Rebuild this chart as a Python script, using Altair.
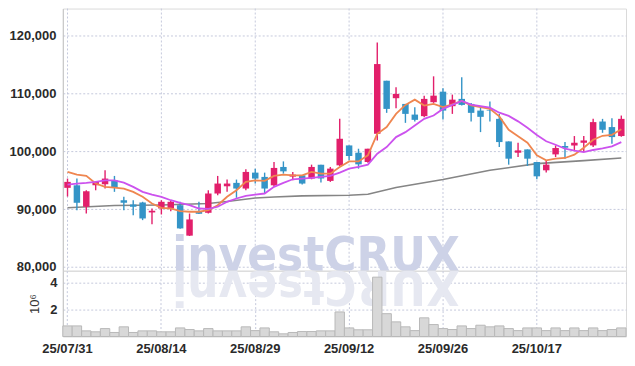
import altair as alt
import pandas as pd

dates = ["25/07/31", "25/08/01", "25/08/04", "25/08/05", "25/08/06", "25/08/07", "25/08/08",
         "25/08/11", "25/08/12", "25/08/13", "25/08/14", "25/08/18", "25/08/19", "25/08/20",
         "25/08/21", "25/08/22", "25/08/25", "25/08/26", "25/08/27", "25/08/28", "25/08/29",
         "25/09/01", "25/09/02", "25/09/03", "25/09/04", "25/09/05", "25/09/08", "25/09/09",
         "25/09/10", "25/09/11", "25/09/12", "25/09/15", "25/09/16", "25/09/17", "25/09/18",
         "25/09/19", "25/09/22", "25/09/23", "25/09/24", "25/09/25", "25/09/26", "25/09/29",
         "25/09/30", "25/10/01", "25/10/02", "25/10/10", "25/10/13", "25/10/14", "25/10/15",
         "25/10/16", "25/10/17", "25/10/20", "25/10/21", "25/10/22", "25/10/23", "25/10/24",
         "25/10/27", "25/10/28", "25/10/29", "25/10/30"]

opens = [93670, 94110, 90400, 94110, 94290, 94970, 91530, 90790, 91140, 89420,
         90100, 90100, 90670, 85410, 89540, 89360, 92690, 93940, 94530, 93550,
         96300, 95560, 94110, 97280, 95610, 95840, 95270, 97680, 94870, 97560,
         101000, 99740, 98140, 103010, 112180, 109160, 108170, 106330, 106060, 108470,
         110290, 107780, 109040, 108170, 107020, 107140, 105590, 101690, 99740, 100310,
         98140, 96700, 99450, 100900, 101000, 101460, 101000, 105130, 104170, 102620]
highs = [95270, 95270, 93250, 94800, 96700, 95730, 92120, 91530, 91260, 90100,
         91530, 91530, 91260, 89240, 91260, 93250, 95730, 95100, 95100, 96870,
         96990, 96300, 98140, 98240, 96420, 95840, 97680, 97680, 97280, 105590,
         101000, 100430, 100430, 118790, 112180, 111050, 108170, 107610, 109600, 112940,
         110880, 109780, 112770, 108350, 107490, 108570, 106450, 101690, 101460, 100310,
         98140, 98420, 101000, 101580, 102620, 102620, 105590, 105590, 105710, 106160]
lows = [92170, 89810, 89240, 93250, 93550, 92980, 89810, 88950, 88090, 87400,
        89070, 89640, 86600, 85350, 89150, 89240, 92390, 92980, 91950, 93250,
        94410, 92690, 93840, 96130, 94970, 94230, 95150, 94580, 94700, 97450,
        98420, 96990, 98020, 101860, 106630, 107430, 104900, 105130, 105890, 108350,
        105470, 106450, 107900, 105130, 103300, 105130, 100720, 97680, 99000, 97450,
        95150, 96300, 99000, 98710, 100140, 99860, 100720, 103180, 101290, 102500]
closes = [94700, 91090, 93080, 94700, 95270, 93670, 91090, 90400, 88380, 89710,
          91260, 91260, 86660, 88210, 89190, 92690, 94410, 94410, 93550, 96420,
          95270, 93550, 97110, 96520, 95960, 94410, 97280, 95270, 96990, 102150,
          99170, 97730, 100430, 115060, 107310, 109900, 106450, 105420, 109040, 109600,
          107020, 108910, 108000, 106630, 105940, 107020, 101580, 98710, 100140, 98710,
          95660, 97680, 100550, 100600, 101460, 101860, 105030, 103700, 102440, 105590]
volumes = [790000, 790000, 420000, 350000, 590000, 300000, 720000, 300000, 420000, 420000,
           350000, 350000, 640000, 520000, 420000, 590000, 420000, 420000, 420000, 720000,
           440000, 640000, 350000, 200000, 300000, 370000, 370000, 420000, 420000, 1830000,
           640000, 500000, 500000, 4420000, 1700000, 1090000, 720000, 440000, 1390000, 890000,
           590000, 520000, 790000, 590000, 840000, 720000, 790000, 590000, 440000, 640000,
           640000, 440000, 640000, 440000, 640000, 440000, 640000, 440000, 520000, 640000]
ma_short = [96420, 95960, 95730, 94410, 93840, 93720, 93550, 92980, 92120, 90970,
            90220, 90100, 89640, 89540, 89540, 89810, 90670, 92120, 93250, 94700,
            94970, 94870, 95730, 95960, 95840, 95840, 96420, 96130, 96130, 97280,
            98240, 98240, 99280, 103010, 104170, 106450, 108000, 108910, 107880, 108170,
            107610, 108090, 108690, 107920, 107610, 107310, 106020, 103700, 102580, 101460,
            99280, 98420, 98710, 98830, 99400, 100600, 101980, 102670, 102840, 103790]
ma_mid = [94230, 94410, 94530, 94700, 94970, 94970, 94580, 93840, 92980, 92510,
          92120, 91530, 91090, 90670, 90100, 90020, 90400, 91260, 91830, 92290,
          92510, 92690, 93840, 94530, 95150, 95270, 95390, 95560, 95730, 96300,
          96990, 97280, 97680, 99570, 100720, 102440, 103300, 104440, 105590, 106160,
          107310, 108000, 108690, 108040, 107780, 107520, 106660, 106110, 105160, 104040,
          102790, 101720, 101120, 100430, 100120, 99860, 100210, 100480, 100830, 101580]
ma_long_dates = ["25/07/31", "25/08/07", "25/08/14", "25/08/22", "25/08/26", "25/08/29",
                 "25/09/02", "25/09/05", "25/09/12", "25/09/16", "25/09/19", "25/09/26",
                 "25/10/10", "25/10/17", "25/10/24", "25/10/30"]
ma_long = [90220, 90620, 90710, 90970, 91310, 91910, 92080, 92290, 92390, 92570,
           93720, 95100, 96700, 97850, 98370, 98830]

tick_dates = ["25/07/31", "25/08/14", "25/08/29", "25/09/12", "25/09/26", "25/10/17"]
price_ticks = [80000, 90000, 100000, 110000, 120000]
vol_ticks = [2000000, 4000000]
watermark = "investCRUX"
watermark_reflection = "XURCtsevni"

UP = "#e21f6b"
DOWN = "#3494c7"
FONT = "Liberation Sans, Arial, sans-serif"
WM_FONT = "DejaVu Sans Condensed, Liberation Sans, sans-serif"
GRID = "#c5c9dc"

df = pd.DataFrame({"date": dates, "open": opens, "high": highs, "low": lows,
                   "close": closes, "volume": volumes, "ma_s": ma_short, "ma_m": ma_mid})
df_long = pd.DataFrame({"date": ma_long_dates, "ma_l": ma_long})
df_ticks = pd.DataFrame({"date": tick_dates})

xscale = alt.Scale(domain=dates, paddingInner=0, paddingOuter=0)
x_price = alt.X("date:O", scale=xscale, axis=None)
yscale = alt.Scale(domain=[79350, 124650], nice=False, zero=False)
y_axis = alt.Axis(values=price_ticks, format=",d", title=None, ticks=False,
                  labelPadding=7, grid=True)

base = alt.Chart(df)
color = alt.condition("datum.close >= datum.open", alt.value(UP), alt.value(DOWN))

vgrid = alt.Chart(df_ticks).mark_rule(color=GRID, strokeDash=[2, 2], strokeWidth=1).encode(
    x=x_price)

wm = alt.Chart(pd.DataFrame({"t": [watermark]})).mark_text(
    font=WM_FONT, fontSize=49, fontWeight="bold", color="#cdd2e7",
    align="center", baseline="alphabetic", clip=True
).encode(text="t:N", x=alt.value(254), y=alt.value(263))

wick = base.mark_rule(strokeWidth=1.4).encode(
    x=x_price, y=alt.Y("low:Q", scale=yscale, axis=y_axis), y2="high:Q", color=color)
body = base.mark_bar(size=6.5).encode(x=x_price, y="open:Q", y2="close:Q", color=color)
line_long = alt.Chart(df_long).mark_line(color="#858585", strokeWidth=1.6).encode(
    x=x_price, y="ma_l:Q")
line_s = base.mark_line(color="#ef8650", strokeWidth=1.8).encode(x=x_price, y="ma_s:Q")
line_m = base.mark_line(color="#cc52ee", strokeWidth=1.8).encode(x=x_price, y="ma_m:Q")

price = alt.layer(vgrid, wm, line_long, wick, body, line_s, line_m).properties(
    width=565, height=263)

x_vol = alt.X("date:O", scale=xscale,
              axis=alt.Axis(values=tick_dates, labelAngle=0, ticks=False, domain=False,
                            title=None, grid=True, labelPadding=6, bandPosition=0.5))
refl = alt.Chart(pd.DataFrame({"t": [watermark_reflection]})).mark_text(
    font=WM_FONT, fontSize=49, fontWeight="bold", color="#e6e8f1", angle=180,
    align="center", baseline="alphabetic", clip=True
).encode(text="t:N", x=alt.value(254), y=alt.value(0))
vbars = base.mark_bar(color="#d8d8d8", stroke="#b9b9b9", strokeWidth=1).encode(
    x=x_vol,
    y=alt.Y("volume:Q", scale=alt.Scale(domain=[0, 4900000], nice=False),
            axis=alt.Axis(values=vol_ticks, labelExpr="datum.value / 1000000",
                          title="10⁶", titleFontWeight="normal", titleFontSize=13,
                          titleColor="#333", titlePadding=8, ticks=False,
                          labelPadding=6, grid=True)))
volume = alt.layer(refl, vbars).properties(width=565, height=66)

chart = alt.vconcat(price, volume, spacing=0, bounds="flush").properties(
    padding={"left": 0, "top": -1, "right": 0, "bottom": 0}
).configure_view(stroke="#dadada").configure_axis(
    labelFont=FONT, labelFontSize=13, labelFontWeight="bold", labelColor="#2a2a2a",
    titleFont=FONT, gridColor=GRID, gridDash=[2, 2], gridWidth=1,
    domainColor="#c4c4c4", minExtent=0
)

chart.save("out.html", embed_options={"renderer": "svg", "actions": False})
